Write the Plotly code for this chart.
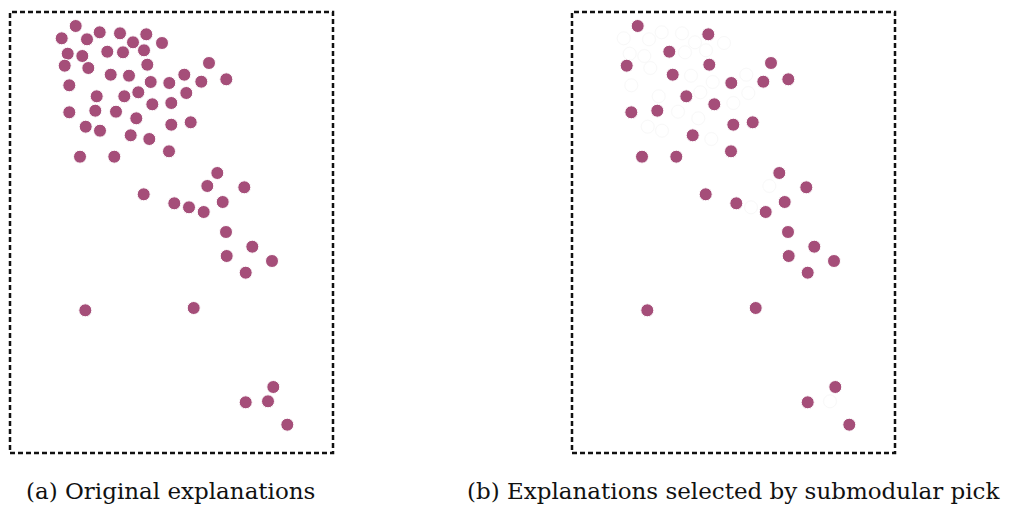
import plotly.graph_objects as go

# Point positions (x to the right, y downward, in box units)
x_all = [65.7, 51.7, 77, 89.7, 110, 136.3, 123, 152, 57.7, 72.3, 97.3, 113, 134, 54.7, 78.3,
         137.3, 199, 100.7, 119, 174.3, 59.3, 140.7, 159.3, 191.3, 216.3, 86.7, 114.3, 128.3,
         176.3, 142.3, 161.3, 59.3, 85.3, 106, 126.3, 161.3, 180.7, 75.7, 90, 120.7, 139.3,
         70, 104.3, 159, 207.3, 197.3, 234.3, 133.7, 164.3, 179, 193.7, 212.7, 216, 242.3,
         216.7, 262, 235.7, 75.3, 183.7, 263.3, 235.7, 258, 277.3]
y_all = [14, 26.3, 27.3, 20.3, 21.3, 22.3, 30.3, 31, 41.7, 44, 39.7, 40.3, 38.3, 53.7, 56,
         52.7, 51, 62.7, 63.7, 62.7, 73.3, 70, 71, 69.7, 67.3, 84.3, 84.3, 80.3, 81, 92.3, 91,
         100.3, 98.7, 99.7, 106.3, 112.7, 110.3, 114.7, 118.7, 123.3, 127, 144.7, 144.7, 139.3,
         161, 174, 175.3, 182.3, 191.3, 195.3, 200, 190, 220, 234.7, 244, 249, 260.7, 298.3,
         296, 375, 390.3, 389.3, 412.7]
# 1 = kept by submodular pick, 0 = dropped
picked = [1, 0, 0, 0, 0, 1, 0, 0, 0, 0, 1, 0, 0, 1, 0, 1, 1, 1, 0, 0, 0, 0, 1, 1, 1, 0, 1, 0,
          0, 1, 0, 1, 1, 0, 0, 1, 1, 0, 0, 1, 0, 1, 1, 1, 1, 0, 1, 1, 1, 0, 1, 1, 1, 1, 1, 1,
          1, 1, 1, 1, 1, 0, 1]
captions = ["(a) Original explanations", "(b) Explanations selected by submodular pick"]

# page body has an 8px margin, so the figure is laid out 8px up/left of the reference
OFF = 8
W, H = 1009 - OFF, 506 - OFF
POINT = "#a54e79"
box_px = [(10 - OFF, 333 - OFF), (572 - OFF, 895 - OFF)]
top_px, bot_px = 12 - OFF, 453 - OFF
ydom = [1 - bot_px / H, 1 - top_px / H]

fig = go.Figure()
for i, (l, r) in enumerate(box_px):
    ax = "" if i == 0 else "2"
    if i == 0:
        fig.add_trace(go.Scatter(x=x_all, y=y_all, mode="markers", xaxis="x", yaxis="y",
                                 marker=dict(size=13, color=POINT, line=dict(width=1, color="white")),
                                 showlegend=False, hoverinfo="skip"))
    else:
        gx = [x for x, p in zip(x_all, picked) if not p]
        gy = [y for y, p in zip(y_all, picked) if not p]
        fig.add_trace(go.Scatter(x=gx, y=gy, mode="markers", xaxis="x2", yaxis="y2",
                                 marker=dict(size=13, color="rgba(0,0,0,0)", line=dict(width=1, color="#f8f8f8")),
                                 showlegend=False, hoverinfo="skip"))
        sx = [x for x, p in zip(x_all, picked) if p]
        sy = [y for y, p in zip(y_all, picked) if p]
        fig.add_trace(go.Scatter(x=sx, y=sy, mode="markers", xaxis="x2", yaxis="y2",
                                 marker=dict(size=13, color=POINT, line=dict(width=1, color="white")),
                                 showlegend=False, hoverinfo="skip"))
    axis_common = dict(showgrid=False, zeroline=False, showticklabels=False, ticks="",
                       showline=False, fixedrange=True)
    fig.update_layout(**{
        "xaxis" + ax: dict(domain=[l / W, r / W], range=[0, 323], anchor="y" + ax, **axis_common),
        "yaxis" + ax: dict(domain=ydom, range=[441, 0], anchor="x" + ax, **axis_common),
    })
    fig.add_shape(type="rect", xref="x" + ax + " domain", yref="y" + ax + " domain",
                  x0=0, x1=1, y0=0, y1=1,
                  line=dict(color="#111111", width=2.5, dash="5px,3px"))

cap_x = [(170 - OFF) / W, (733 - OFF) / W]
for cx, txt in zip(cap_x, captions):
    fig.add_annotation(x=cx, y=1 - (491 - OFF) / H, xref="paper", yref="paper", text=txt,
                       showarrow=False, xanchor="center", yanchor="middle",
                       font=dict(family="DejaVu Serif", size=23, color="#111111"))

fig.update_layout(width=W, height=H, margin=dict(l=0, r=0, t=0, b=0),
                  paper_bgcolor="white", plot_bgcolor="white")
fig.write_html("out.html")
